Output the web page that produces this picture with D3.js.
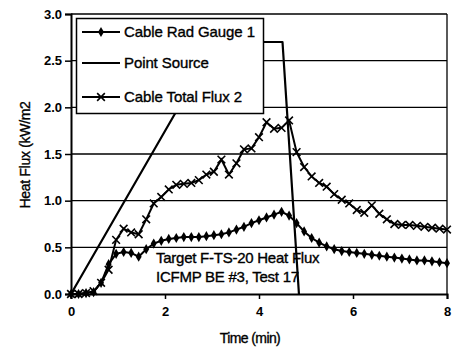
<!DOCTYPE html>
<html>
<head>
<meta charset="utf-8">
<script src="https://cdn.jsdelivr.net/npm/d3@7"></script>
<style>
  html, body { margin: 0; padding: 0; background: #fff; }
  svg { display: block; font-family: "Liberation Sans", Arial, sans-serif; }
  .lbl { fill: #000; stroke: #000; stroke-width: 0.35px; }
</style>
</head>
<body>
<svg id="chart" width="452" height="350"></svg>
<script>
// Sample times (min) shared by both cable measurements
const times = [0, 0.16, 0.32, 0.48, 0.64, 0.8, 0.96, 1.12, 1.28, 1.44, 1.6, 1.76, 1.92, 2.08, 2.24,
  2.4, 2.56, 2.72, 2.88, 3.04, 3.2, 3.36, 3.52, 3.68, 3.84, 4.0, 4.16, 4.32, 4.48, 4.64, 4.8, 4.96,
  5.12, 5.28, 5.44, 5.6, 5.76, 5.92, 6.08, 6.24, 6.4, 6.56, 6.72, 6.88, 7.04, 7.2, 7.36, 7.52, 7.68,
  7.84, 8.0];

// Cable Rad Gauge 1 (kW/m2)
const radGauge1 = [0, 0, 0.01, 0.02, 0.12, 0.32, 0.43, 0.45, 0.44, 0.40, 0.48, 0.54, 0.57, 0.59, 0.60,
  0.61, 0.61, 0.61, 0.62, 0.63, 0.64, 0.66, 0.69, 0.72, 0.76, 0.79, 0.82, 0.85, 0.88, 0.84, 0.76, 0.67,
  0.60, 0.55, 0.51, 0.48, 0.46, 0.45, 0.44, 0.43, 0.42, 0.41, 0.40, 0.39, 0.38, 0.37, 0.36, 0.36, 0.35,
  0.34, 0.33];

// Cable Total Flux 2 (kW/m2)
const totalFlux2 = [0, 0, 0.01, 0.03, 0.12, 0.26, 0.58, 0.70, 0.66, 0.64, 0.80, 0.97, 1.04, 1.12, 1.17,
  1.18, 1.19, 1.22, 1.28, 1.31, 1.44, 1.28, 1.40, 1.55, 1.56, 1.68, 1.84, 1.77, 1.78, 1.86, 1.52, 1.36,
  1.26, 1.19, 1.15, 1.07, 1.01, 0.97, 0.90, 0.87, 0.95, 0.86, 0.80, 0.75, 0.74, 0.74, 0.73, 0.72, 0.71,
  0.70, 0.69];

// Point Source model
const pointTimes = [0, 3.0, 3.1, 3.2, 4.5, 4.85];
const pointSource = [0, 2.62, 2.68, 2.7, 2.7, 0];

const xTicks = [0, 2, 4, 6, 8];
const yTicks = [0, 0.5, 1.0, 1.5, 2.0, 2.5, 3.0];
const legendLabels = ["Cable Rad Gauge 1", "Point Source", "Cable Total Flux 2"];
const noteLines = ["Target F-TS-20 Heat Flux", "ICFMP BE #3, Test 17"];

const svg = d3.select("#chart");
const m = { left: 71, right: 447, top: 14, bottom: 294 };

const x = d3.scaleLinear().domain([0, 8]).range([m.left, m.right]);
const y = d3.scaleLinear().domain([0, 3]).range([m.bottom, m.top]);

// Horizontal grid lines
svg.append("g")
  .selectAll("line")
  .data(yTicks.filter(v => v > 0))
  .join("line")
  .attr("x1", m.left).attr("x2", m.right)
  .attr("y1", d => y(d)).attr("y2", d => y(d))
  .attr("stroke", "#000").attr("stroke-width", 1.3);

// Right frame edge
svg.append("line")
  .attr("x1", m.right).attr("x2", m.right)
  .attr("y1", m.top).attr("y2", m.bottom)
  .attr("stroke", "#000").attr("stroke-width", 1.3);

// Axes
const yAxis = d3.axisLeft(y).tickValues(yTicks).tickFormat(d3.format(".1f")).tickSize(6).tickPadding(3);
const xAxis = d3.axisBottom(x).tickValues(xTicks).tickFormat(d3.format("d")).tickSize(5).tickPadding(8);

const gy = svg.append("g").attr("transform", `translate(${m.left},0)`).call(yAxis);
const gx = svg.append("g").attr("transform", `translate(0,${m.bottom})`).call(xAxis);
[gx, gy].forEach(g => {
  g.select(".domain").attr("stroke", "#000").attr("stroke-width", 2);
  g.selectAll(".tick line").attr("stroke", "#000").attr("stroke-width", 1.5);
  g.selectAll(".tick text")
    .attr("fill", "#000")
    .style("font-size", "13px")
    .style("font-weight", "bold")
    .style("font-family", "'Liberation Sans', Arial, sans-serif");
});

// Axis titles
svg.append("text").attr("class", "lbl")
  .attr("x", 250).attr("y", 343)
  .attr("text-anchor", "middle")
  .style("font-size", "14px")
  .style("letter-spacing", "-0.6px")
  .text("Time (min)");

svg.append("text").attr("class", "lbl")
  .attr("transform", "translate(30,155) rotate(-90)")
  .attr("text-anchor", "middle")
  .style("font-size", "14px")
  .style("letter-spacing", "-0.3px")
  .text("Heat Flux (kW/m2");

// Series
const lineGen = d3.line().x(d => x(d[0])).y(d => y(d[1]));
const radData = times.map((t, i) => [t, radGauge1[i]]);
const fluxData = times.map((t, i) => [t, totalFlux2[i]]);
const pointData = pointTimes.map((t, i) => [t, pointSource[i]]);

const plot = svg.append("g");

plot.append("path").datum(pointData)
  .attr("d", lineGen).attr("fill", "none")
  .attr("stroke", "#000").attr("stroke-width", 2.2).attr("stroke-linejoin", "round");

plot.append("path").datum(radData)
  .attr("d", lineGen).attr("fill", "none")
  .attr("stroke", "#000").attr("stroke-width", 2);

plot.append("path").datum(fluxData)
  .attr("d", lineGen).attr("fill", "none")
  .attr("stroke", "#000").attr("stroke-width", 2);

const diamond = d3.symbol().type(d3.symbolDiamond).size(30);
const cross = d3.symbol().type(d3.symbolX).size(40);

plot.append("g").selectAll("path").data(radData).join("path")
  .attr("transform", d => `translate(${x(d[0])},${y(d[1])})`)
  .attr("d", diamond).attr("fill", "#000");

plot.append("g").selectAll("path").data(fluxData).join("path")
  .attr("transform", d => `translate(${x(d[0])},${y(d[1])})`)
  .attr("d", cross).attr("fill", "none").attr("stroke", "#000").attr("stroke-width", 1.6);

// Legend
const legend = svg.append("g");
legend.append("rect")
  .attr("x", 76.5).attr("y", 18.5).attr("width", 187).attr("height", 95)
  .attr("fill", "#fff").attr("stroke", "#000").attr("stroke-width", 1.5);

const legendY = [32, 63, 97];
legendLabels.forEach((label, i) => {
  const ly = legendY[i];
  legend.append("line")
    .attr("x1", 82).attr("x2", 120).attr("y1", ly).attr("y2", ly)
    .attr("stroke", "#000").attr("stroke-width", 1.8);
  if (i === 0) {
    legend.append("path").attr("transform", `translate(101,${ly})`).attr("d", diamond).attr("fill", "#000");
  } else if (i === 2) {
    legend.append("path").attr("transform", `translate(101,${ly})`).attr("d", cross)
      .attr("fill", "none").attr("stroke", "#000").attr("stroke-width", 1.6);
  }
  legend.append("text").attr("class", "lbl")
    .attr("x", 124).attr("y", ly + 5)
    .style("font-size", "15px")
    .style("letter-spacing", "-0.1px")
    .text(label);
});

// Annotation
noteLines.forEach((line, i) => {
  svg.append("text").attr("class", "lbl")
    .attr("x", 156).attr("y", 263 + i * 19)
    .style("font-size", "15px")
    .style("letter-spacing", "-0.25px")
    .text(line);
});
</script>
</body>
</html>
